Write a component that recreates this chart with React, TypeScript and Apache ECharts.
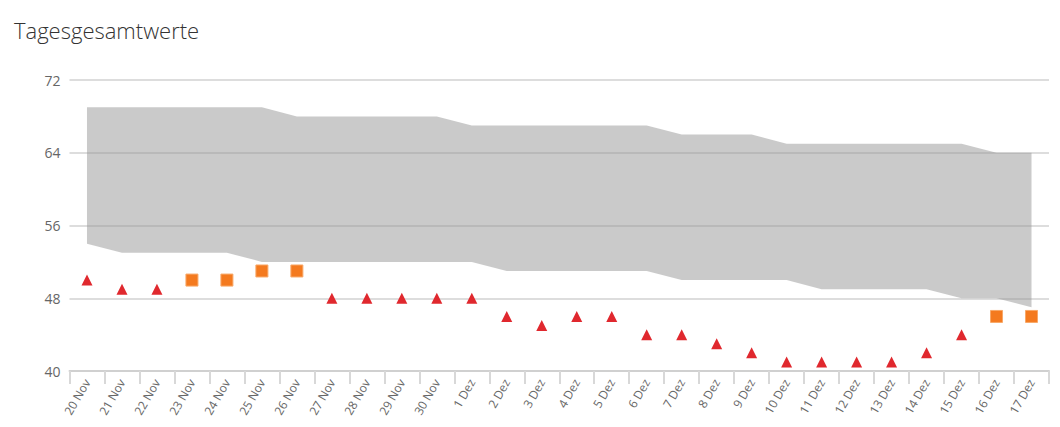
import React, { useEffect, useRef } from "react";
import * as echarts from "echarts";

const categories = [
  "20 Nov", "21 Nov", "22 Nov", "23 Nov", "24 Nov", "25 Nov", "26 Nov", "27 Nov", "28 Nov", "29 Nov", "30 Nov",
  "1 Dez", "2 Dez", "3 Dez", "4 Dez", "5 Dez", "6 Dez", "7 Dez", "8 Dez", "9 Dez", "10 Dez", "11 Dez", "12 Dez",
  "13 Dez", "14 Dez", "15 Dez", "16 Dez", "17 Dez",
];
const bandLower = [54, 53, 53, 53, 53, 52, 52, 52, 52, 52, 52, 52, 51, 51, 51, 51, 51, 50, 50, 50, 50, 49, 49, 49, 49, 48, 48, 47];
const bandUpper = [69, 69, 69, 69, 69, 69, 68, 68, 68, 68, 68, 67, 67, 67, 67, 67, 67, 66, 66, 66, 65, 65, 65, 65, 65, 65, 64, 64];
const triangles: (number | null)[] = [50, 49, 49, null, null, null, null, 48, 48, 48, 48, 48, 46, 45, 46, 46, 44, 44, 43, 42, 41, 41, 41, 41, 42, 44, null, null];
const squares: (number | null)[] = [null, null, null, 50, 50, 51, 51, null, null, null, null, null, null, null, null, null, null, null, null, null, null, null, null, null, null, null, 46, 46];
const yTicks = { min: 40, max: 72, interval: 8 };

export default function App() {
  const ref = useRef<HTMLDivElement>(null);
  useEffect(() => {
    if (!ref.current) return;
    const chart = echarts.init(ref.current, undefined, { renderer: "svg" });
    const bandDiff = bandUpper.map((u, i) => u - bandLower[i]);
    chart.setOption({
      animation: false,
      title: {
        text: "Tagesgesamtwerte",
        left: 9,
        top: 14,
        textStyle: { fontFamily: "Open Sans", fontWeight: 300, fontSize: 22, color: "#333" },
      },
      grid: { left: 69.5, right: 11, top: 80, bottom: 56, containLabel: false },
      xAxis: {
        type: "category",
        data: categories,
        boundaryGap: true,
        axisLine: { lineStyle: { color: "#d0d0d0", width: 2 } },
        axisTick: { show: true, length: 13, lineStyle: { color: "#d8d8d8", width: 2 }, alignWithLabel: false },
        axisLabel: {
          rotate: 60,
          interval: 0,
          fontFamily: "Open Sans",
          fontSize: 12,
          color: "#666",
          margin: 9,
        },
      },
      yAxis: {
        type: "value",
        min: yTicks.min,
        max: yTicks.max,
        interval: yTicks.interval,
        axisLine: { show: false },
        axisTick: { show: false },
        axisLabel: { fontFamily: "Open Sans", fontSize: 14, color: "#666", margin: 9 },
        splitLine: { lineStyle: { color: "#dddddd", width: 2 } },
      },
      series: [
        {
          type: "line",
          stack: "band",
          data: bandLower,
          symbol: "none",
          lineStyle: { opacity: 0 },
          areaStyle: { opacity: 0 },
          silent: true,
        },
        {
          type: "line",
          stack: "band",
          data: bandDiff,
          symbol: "none",
          lineStyle: { opacity: 0 },
          areaStyle: { color: "rgba(150,150,150,0.5)", opacity: 1 },
          silent: true,
        },
        {
          type: "scatter",
          data: triangles,
          symbol: "triangle",
          symbolSize: 11,
          itemStyle: { color: "#e0282e", opacity: 1 },
        },
        {
          type: "scatter",
          data: squares,
          symbol: "rect",
          symbolSize: 12,
          itemStyle: { color: "#f47a1f", borderColor: "#f8a868", borderWidth: 1, opacity: 1 },
        },
      ],
    });
    return () => chart.dispose();
  }, []);
  return (
    <div
      ref={ref}
      style={{ position: "fixed", left: 0, top: 0, width: 1060, height: 427, background: "#fff" }}
    />
  );
}
